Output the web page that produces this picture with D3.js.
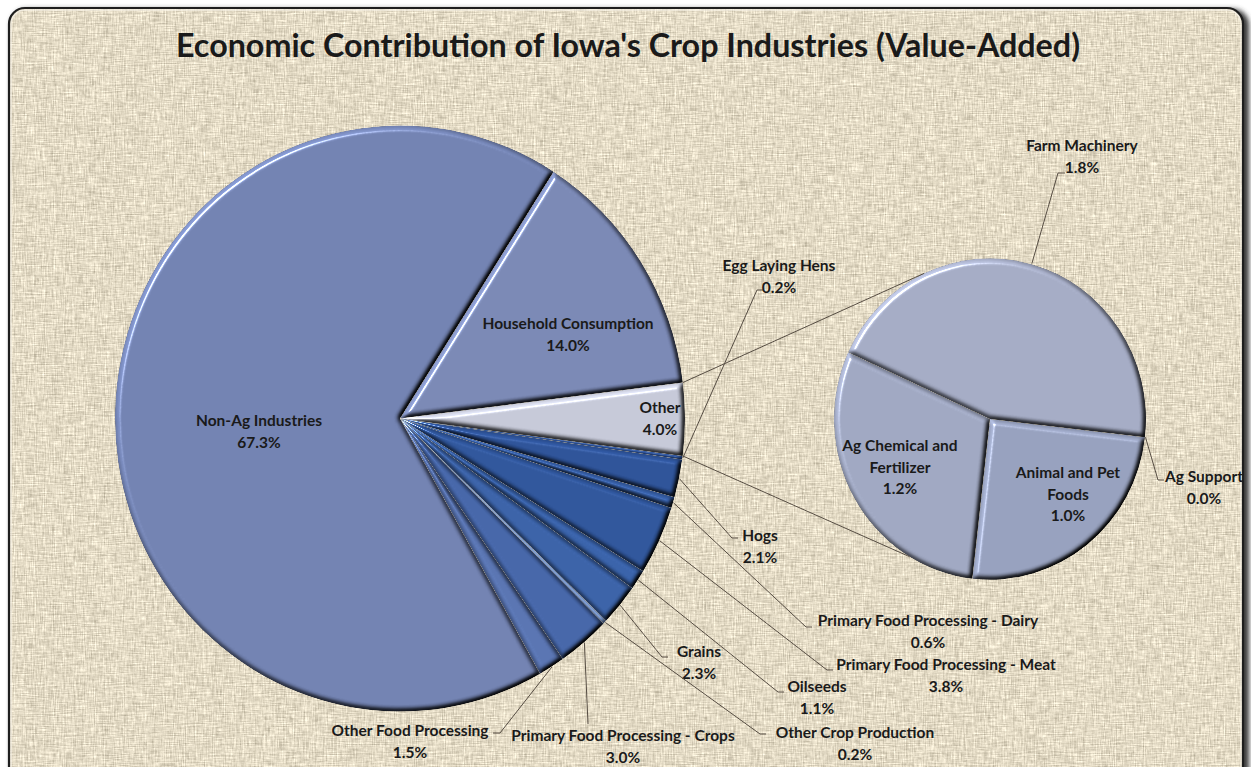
<!DOCTYPE html>
<html>
<head>
<meta charset="utf-8">
<script src="https://cdn.jsdelivr.net/npm/d3@7"></script>
<style>
  body { margin: 0; background: #ffffff; }
  svg { display: block; }
  text { font-family: Lato, "Open Sans", "DejaVu Sans", sans-serif; font-weight: 700; fill: #1a1a1a; }
</style>
</head>
<body>
<svg id="chart" width="1251" height="767"></svg>
<script>
// ---- data: share of value added (%) ----
const categories = [
  "Household Consumption", "Other", "Egg Laying Hens", "Hogs",
  "Primary Food Processing - Dairy", "Primary Food Processing - Meat",
  "Oilseeds", "Grains", "Other Crop Production",
  "Primary Food Processing - Crops", "Other Food Processing", "Non-Ag Industries"
];
const shares = [14.0, 4.0, 0.2, 2.1, 0.6, 3.8, 1.1, 2.3, 0.2, 3.0, 1.5, 67.3];

// breakdown of the "Other" slice
const otherCategories = ["Ag Support", "Animal and Pet Foods", "Ag Chemical and Fertilizer", "Farm Machinery"];
const otherShares = [0.0, 1.0, 1.2, 1.8];

const title = "Economic Contribution of Iowa's Crop Industries (Value-Added)";

// ---- styling ----
const sliceColors = {
  "Household Consumption": "#7987b3",
  "Other": "#c4c7d6",
  "Egg Laying Hens": "#2b4f93",
  "Hogs": "#2d5297",
  "Primary Food Processing - Dairy": "#365ea5",
  "Primary Food Processing - Meat": "#2f559a",
  "Oilseeds": "#3861a8",
  "Grains": "#3a61a6",
  "Other Crop Production": "#7d9bd0",
  "Primary Food Processing - Crops": "#4565a7",
  "Other Food Processing": "#5873b0",
  "Non-Ag Industries": "#7181b0",
  "Ag Support": "#98a1bd",
  "Animal and Pet Foods": "#959fbc",
  "Ag Chemical and Fertilizer": "#9ea6c0",
  "Farm Machinery": "#a3aac3"
};

const nameLines = {
  "Ag Chemical and Fertilizer": ["Ag Chemical and", "Fertilizer"],
  "Animal and Pet Foods": ["Animal and Pet", "Foods"]
};

const W = 1251, H = 767;
const deg = Math.PI / 180;
const mainPie = { cx: 400, cy: 418.5, r: 285, k: 1.028, start: 32.6 };
const subPie  = { cx: 990, cy: 419,   r: 156, k: 1.03,  start: 96.5 };

// label placement: centre of first line, optional leader bend / end points
const labelLayout = [
  { name: "Non-Ag Industries", x: 259, y: 421 },
  { name: "Household Consumption", x: 568, y: 324 },
  { name: "Other", x: 660, y: 408 },
  { name: "Egg Laying Hens", x: 779, y: 266, leader: [[757, 290], [763, 290]] },
  { name: "Hogs", x: 760, y: 536, leader: [[732, 538], [738, 538]] },
  { name: "Primary Food Processing - Dairy", x: 928, y: 621, leader: [[806, 627], [812, 627]] },
  { name: "Primary Food Processing - Meat", x: 946, y: 665, leader: [[827, 670], [833, 670]] },
  { name: "Oilseeds", x: 817, y: 687, leader: [[778, 692], [784, 692]] },
  { name: "Grains", x: 699, y: 652, leader: [[662, 657], [668, 657]] },
  { name: "Other Crop Production", x: 855, y: 733, leader: [[760, 734], [766, 734]] },
  { name: "Primary Food Processing - Crops", x: 623, y: 736, leader: [[588, 724]] },
  { name: "Other Food Processing", x: 410, y: 731, leader: [[500, 733], [493, 733]] },
  { name: "Farm Machinery", x: 1082, y: 146, leader: [[1058, 173], [1065, 173]] },
  { name: "Ag Chemical and Fertilizer", x: 900, y: 446 },
  { name: "Animal and Pet Foods", x: 1068, y: 473 },
  { name: "Ag Support", x: 1204, y: 477, leader: [[1158, 480], [1164, 480]] }
];
// where the series lines meet the secondary pie (degrees, clockwise from 12 o'clock)
const seriesLineAngles = [-25, 211];

const svg = d3.select("#chart");
const defs = svg.append("defs");

// linen background texture
const linen = defs.append("filter").attr("id", "linen")
  .attr("x", 0).attr("y", 0).attr("width", W).attr("height", H + 40)
  .attr("filterUnits", "userSpaceOnUse")
  .attr("color-interpolation-filters", "sRGB");
linen.append("feTurbulence").attr("type", "fractalNoise")
  .attr("baseFrequency", "1.1 0.08").attr("numOctaves", 1).attr("seed", 4).attr("result", "n1");
linen.append("feTurbulence").attr("type", "fractalNoise")
  .attr("baseFrequency", "0.08 1.1").attr("numOctaves", 1).attr("seed", 11).attr("result", "n2");
linen.append("feTurbulence").attr("type", "fractalNoise")
  .attr("baseFrequency", "0.35").attr("numOctaves", 2).attr("seed", 23).attr("result", "n3");
linen.append("feComposite").attr("in", "n1").attr("in2", "n2")
  .attr("operator", "arithmetic").attr("k2", 0.4).attr("k3", 0.4).attr("result", "n12");
linen.append("feComposite").attr("in", "n12").attr("in2", "n3")
  .attr("operator", "arithmetic").attr("k2", 1).attr("k3", 0.2).attr("result", "n");
linen.append("feColorMatrix").attr("in", "n").attr("type", "matrix")
  .attr("values", "0.75 0 0 0 0.515  0.75 0 0 0 0.48  0.75 0 0 0 0.395  0 0 0 0 1");

// bevel for pie slices
const bevel = defs.append("filter").attr("id", "bevel")
  .attr("filterUnits", "userSpaceOnUse")
  .attr("x", -330).attr("y", -330).attr("width", 660).attr("height", 660)
  .attr("color-interpolation-filters", "sRGB");
bevel.append("feGaussianBlur").attr("in", "SourceAlpha").attr("stdDeviation", 2.8).attr("result", "blur");
const diff = bevel.append("feDiffuseLighting").attr("in", "blur")
  .attr("surfaceScale", 4.5).attr("diffuseConstant", 1).attr("lighting-color", "#ffffff").attr("result", "diff");
diff.append("feDistantLight").attr("azimuth", 225).attr("elevation", 55);
bevel.append("feComposite").attr("in", "SourceGraphic").attr("in2", "diff")
  .attr("operator", "arithmetic").attr("k1", 1.22).attr("result", "shade");
const spec = bevel.append("feSpecularLighting").attr("in", "blur")
  .attr("surfaceScale", 4.5).attr("specularConstant", 1.1).attr("specularExponent", 90)
  .attr("lighting-color", "#ffffff").attr("result", "spec");
spec.append("feDistantLight").attr("azimuth", 225).attr("elevation", 55);
bevel.append("feComposite").attr("in", "spec").attr("in2", "SourceAlpha").attr("operator", "in").attr("result", "specIn");
bevel.append("feComposite").attr("in", "shade").attr("in2", "specIn")
  .attr("operator", "arithmetic").attr("k2", 1).attr("k3", 0.85).attr("result", "lit");
bevel.append("feComposite").attr("in", "lit").attr("in2", "SourceAlpha").attr("operator", "in");

// soft shadow behind the frame
const fshadow = defs.append("filter").attr("id", "frameShadow")
  .attr("x", "-5%").attr("y", "-5%").attr("width", "110%").attr("height", "110%");
fshadow.append("feGaussianBlur").attr("stdDeviation", 2.5);

defs.append("clipPath").attr("id", "frameClip")
  .append("rect").attr("x", 9).attr("y", 8).attr("width", 1234).attr("height", 800).attr("rx", 16);

// ---- frame & background ----
svg.append("rect").attr("width", W).attr("height", H).attr("fill", "#ffffff");
svg.append("rect").attr("x", 11).attr("y", 9).attr("width", 1238).attr("height", 800).attr("rx", 16)
  .attr("fill", "#3a3a3a").attr("filter", "url(#frameShadow)");
svg.append("g").attr("clip-path", "url(#frameClip)")
  .append("rect").attr("x", 0).attr("y", 0).attr("width", W).attr("height", H + 40)
  .attr("fill", "#e6dcc6").attr("filter", "url(#linen)");
svg.append("rect").attr("x", 11).attr("y", 10).attr("width", 1230).attr("height", 800).attr("rx", 14)
  .attr("fill", "none").attr("stroke", "#f6f1e6").attr("stroke-width", 1.5).attr("opacity", 0.8);
svg.append("rect").attr("x", 9).attr("y", 8).attr("width", 1234).attr("height", 800).attr("rx", 16)
  .attr("fill", "none").attr("stroke", "#1e1e1e").attr("stroke-width", 2.2);

// ---- title ----
svg.append("text").attr("x", 628).attr("y", 57).attr("text-anchor", "middle")
  .attr("font-size", 33).attr("textLength", 904).attr("lengthAdjust", "spacingAndGlyphs")
  .text(title);

// ---- pies ----
const fmt = v => d3.format(".1f")(v) + "%";

const mainRows = categories.map((c, i) => ({ name: c, value: shares[i] }));
const subRows = otherCategories.map((c, i) => ({ name: c, value: otherShares[i] }));

const mainArcs = d3.pie().sort(null).value(d => d.value)
  .startAngle(mainPie.start * deg).endAngle((mainPie.start + 360) * deg)(mainRows);
const subArcs = d3.pie().sort(null).value(d => d.value)
  .startAngle(subPie.start * deg).endAngle((subPie.start + 360) * deg)(subRows);

function drawPie(p, arcs) {
  const arc = d3.arc().innerRadius(0).outerRadius(p.r);
  svg.append("g")
    .attr("transform", `translate(${p.cx},${p.cy}) scale(1,${p.k})`)
    .selectAll("path").data(arcs.filter(d => d.endAngle > d.startAngle)).join("path")
    .attr("d", arc)
    .attr("fill", d => sliceColors[d.data.name])
    .attr("filter", "url(#bevel)");
}
drawPie(mainPie, mainArcs);
drawPie(subPie, subArcs);

// point on a pie rim at angle a (radians, clockwise from 12 o'clock)
const rim = (p, a, extra = 0) => [
  p.cx + (p.r + extra) * Math.sin(a),
  p.cy - (p.r + extra) * p.k * Math.cos(a)
];

const lineGen = d3.line();
const leaderColor = "#564d43";

// series lines joining "Other" to the secondary pie
const otherArc = mainArcs.find(d => d.data.name === "Other");
[[otherArc.startAngle, seriesLineAngles[0]], [otherArc.endAngle, seriesLineAngles[1]]].forEach(([a, b]) => {
  svg.append("path")
    .attr("d", lineGen([rim(mainPie, a), rim(subPie, b * deg)]))
    .attr("fill", "none").attr("stroke", leaderColor).attr("stroke-width", 1);
});

// ---- labels & leader lines ----
const allArcs = [...mainArcs.map(d => ({ d, p: mainPie })), ...subArcs.map(d => ({ d, p: subPie }))];
const labelG = svg.append("g");

labelLayout.forEach(l => {
  const hit = allArcs.find(o => o.d.data.name === l.name);
  const value = hit.d.data.value;
  if (l.leader) {
    const mid = (hit.d.startAngle + hit.d.endAngle) / 2;
    const pts = [rim(hit.p, mid, 0.5), ...l.leader];
    labelG.append("path").attr("d", lineGen(pts))
      .attr("fill", "none").attr("stroke", leaderColor).attr("stroke-width", 1);
  }
  const lines = (nameLines[l.name] || [l.name]).concat([fmt(value)]);
  const t = labelG.append("text").attr("text-anchor", "middle").attr("font-size", 15.5);
  lines.forEach((s, i) => {
    t.append("tspan").attr("x", l.x).attr("y", l.y + i * 21.5).attr("dy", "0.35em").text(s);
  });
});
</script>
</body>
</html>
